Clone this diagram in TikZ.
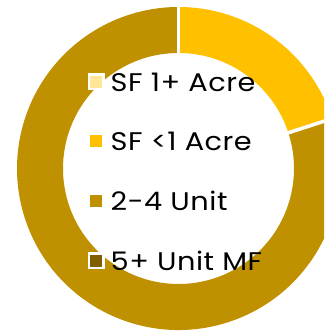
\documentclass[tikz,border=0pt]{standalone}
\usepackage{fontspec}
\setmainfont{Poppins}[FakeStretch=1.13, LetterSpace=2]
\usetikzlibrary{positioning}

\definecolor{acrebig}{HTML}{FFE699}
\definecolor{acresmall}{HTML}{FFC000}
\definecolor{fewunit}{HTML}{BF9000}
\definecolor{manyunit}{HTML}{7F5F00}

\begin{document}
\begin{tikzpicture}[
     x = 1pt,
     y = 1pt,
     key/.style = {draw=white, line width=2.5pt, minimum size=14.5pt, inner sep=0pt},
     keytext/.style = {font=\fontsize{25.5}{30}\selectfont, inner sep=0pt, node distance=6pt},
     gap/.style = {draw=white, line width=3.5pt}
    ]
    \useasboundingbox (0,0) rectangle (324,331);
    \clip (0,0) rectangle (324,331);

    % ring centre
    \coordinate (mid) at (178.5,162.5);

    % slices
    \fill[acresmall] (mid) ++(90:161.5) arc[start angle=90, end angle=18, radius=161.5]
      -- ++(198:46) arc[start angle=18, end angle=90, radius=115.5] -- cycle;
    \fill[fewunit] (mid) ++(18:161.5) arc[start angle=18, end angle=-270, radius=161.5]
      -- ++(270:46) arc[start angle=-270, end angle=18, radius=115.5] -- cycle;

    % separators
    \draw[gap] (mid) ++(90:114) -- ++(90:49);
    \draw[gap] (mid) ++(18:114) -- ++(18:52);

    % legend
    \node[key, fill=acrebig] (k1) at (96,249) {};
    \node[key, fill=acresmall] (k2) at (96,190) {};
    \node[key, fill=fewunit] (k3) at (96,130) {};
    \node[key, fill=manyunit] (k4) at (96,70) {};

    \node[keytext, right=of k1] (t1) {SF 1+ Acre};
    \node[keytext, right=of k2] (t2) {SF <1 Acre};
    \node[keytext, right=of k3] (t3) {2-4 Unit};
    \node[keytext, right=of k4] (t4) {5+ Unit MF};
   \end{tikzpicture}
\end{document}
